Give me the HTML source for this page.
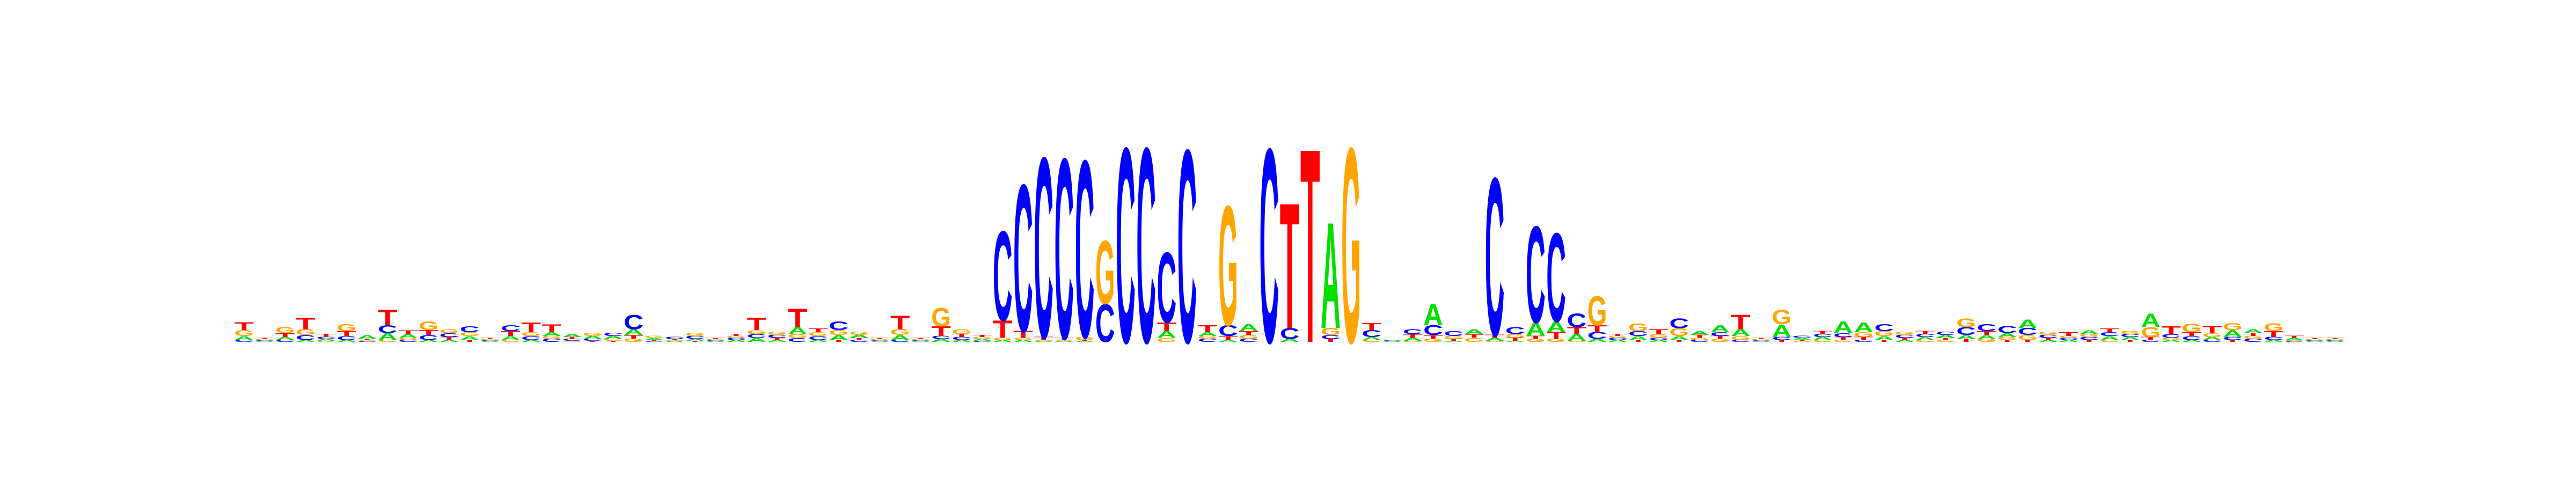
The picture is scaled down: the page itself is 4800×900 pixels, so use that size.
<!DOCTYPE html>
<html><head><meta charset="utf-8"><style>
html,body{margin:0;padding:0;background:#fff;}
svg{display:block;}
</style></head><body>
<svg id="logo" width="4800" height="900" viewBox="0 0 4800 900" xmlns="http://www.w3.org/2000/svg">
<rect width="4800" height="900" fill="#fff"/>
<g id="marks"></g>
</svg>
<script>
// Information content (bits) per position for each base
const baseA = [.04,.01,.03,.02,.02,.02,.04,.07,.04,.02,.02,.04,.01,.04,.02,.04,.03,.03,.03,.06,.02,.01,.02,.01,.02,.04,.02,.07,.02,.05,.03,.01,.05,.01,.03,.02,.02,.02,.02,.01,.01,.01,0,0,0,.07,0,.04,.02,.07,0,.03,0,1.09,0,.03,.01,.03,.22,.01,.05,.03,.01,.14,.11,.07,.03,.02,.04,.02,.04,.04,.07,.07,.01,.13,.02,.03,.12,.10,.04,.02,.03,.03,.04,.04,.04,.09,.02,.02,.04,.04,.03,.14,.02,.02,.03,.07,.04,.02,.02,.01,.01];
const baseC = [.02,.01,.02,.05,.02,.04,.01,.08,.02,.05,.04,.06,.01,.06,.04,.03,.02,.02,.03,.15,.01,.02,.03,.01,.02,.04,.03,.04,.04,.09,.02,.01,.02,.01,.03,.03,.01,.92,1.51,1.85,1.85,1.82,.39,2.0,2.0,.72,1.98,.03,.11,.03,1.99,.11,0,.04,0,.07,.01,.05,.10,.05,0,1.62,.07,.99,.91,.14,.07,.02,.05,.02,.10,.02,.04,.02,.01,.03,.02,.03,.04,.02,.07,.03,.03,.03,.08,.07,.07,.07,.03,.02,.03,.04,.03,.02,.04,.04,.02,.03,.03,.03,.01,.01,.01];
const baseG = [.06,.01,.06,.06,.01,.07,.01,.02,.02,.09,.04,.04,.01,.02,.04,.03,.01,.03,.02,.03,.02,.01,.03,.01,.02,.04,.03,.04,.04,.05,.03,.01,.06,.01,.19,.05,.02,.02,.02,.01,.01,.03,.65,0,0,.04,0,.03,1.23,.04,0,0,0,.07,2.0,.02,0,.01,.03,.03,.04,.01,.04,.03,.03,.01,.30,.02,.08,.04,.08,.02,.03,.04,.01,.15,.01,.02,.02,.05,.05,.03,.02,.02,.09,.03,.03,.05,.03,.02,.03,.02,.03,.10,.02,.09,.04,.07,.03,.08,.01,.01,.01];
const baseT = [.08,.01,.04,.12,.03,.05,.01,.16,.04,.05,.03,.02,.01,.05,.10,.08,.02,.01,.01,.04,.01,.01,.01,.01,.02,.13,.02,.19,.04,.02,.02,.01,.14,.01,.10,.03,.02,.18,.07,.03,.02,.01,0,0,0,.09,0,.07,.04,.04,0,1.29,1.99,.03,0,.07,0,.04,.04,.02,.04,.03,.03,.03,.07,.07,.07,.02,.02,.05,.02,.03,.03,.15,.01,.02,.01,.03,.03,.03,.02,.02,.03,.02,.03,.04,.02,.02,.02,.04,.02,.04,.02,.03,.08,.04,.07,.02,.03,.06,.02,.01,.01];
const letters = ['A','C','G','T'];
const letterColors = {A:'#00e000', C:'#0000ff', G:'#ffa500', T:'#ff0000'};

// axis functions
const x0 = 436, colW = 38.2, baseline = 637, pxPerBit = 182.5;
function xPos(i){ return x0 + i*colW; }
function yLen(bits){ return bits*pxPerBit; }

const NS = 'http://www.w3.org/2000/svg';
const g = document.getElementById('marks');
const series = {A:baseA, C:baseC, G:baseG, T:baseT};
const capH = 70.2; // effective cap height at font-size 100
for (let i = 0; i < baseA.length; i++) {
  const stack = letters.map(l => ({l, v: series[l][i]})).filter(d => d.v > 0).sort((a,b) => a.v - b.v);
  let y = baseline;
  const col = document.createElementNS(NS, 'g');
  
  
  for (const d of stack) {
    const h = yLen(d.v);
    if (h < 0.4) continue;
    const t = document.createElementNS(NS, 'text');
    
    
    t.setAttribute('x', 0);
    t.setAttribute('y', 0);
    t.setAttribute('font-family', 'Liberation Sans, Arial, sans-serif');
    t.setAttribute('font-weight', 'bold');
    t.setAttribute('font-size', '100');
    t.setAttribute('fill', letterColors[d.l]);
    t.setAttribute('textLength', (colW - 1.5).toFixed(2));
    t.setAttribute('lengthAdjust', 'spacingAndGlyphs');
    t.setAttribute('transform', 'translate(' + (xPos(i)+0.5).toFixed(2) + ',' + y.toFixed(2) + ') scale(1,' + (h/capH).toFixed(4) + ')');
    t.textContent = d.l;
    col.appendChild(t);
    y -= h;
  }
  g.appendChild(col);
}
</script>
</body></html>
